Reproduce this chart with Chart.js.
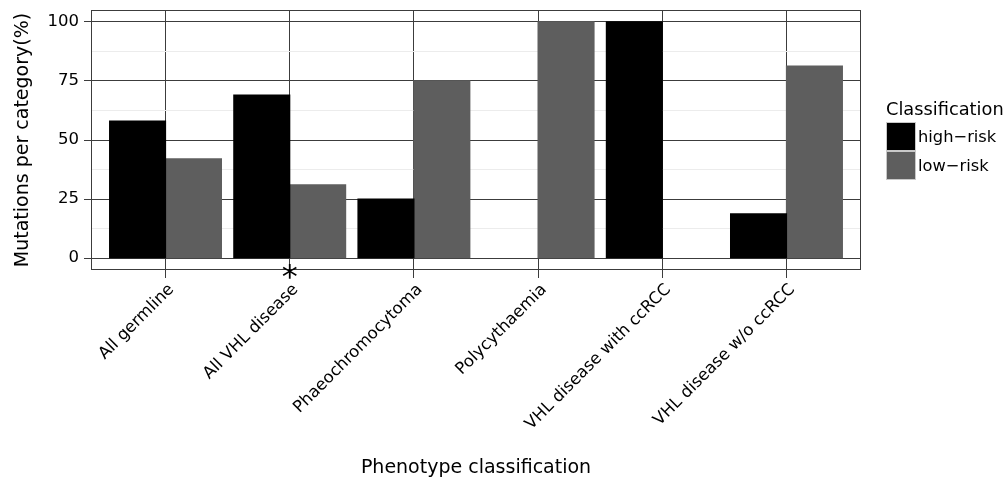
<!DOCTYPE html>
<html>
<head>
<meta charset="utf-8">
<script src="https://cdn.jsdelivr.net/npm/chart.js@4"></script>
<style>
  html, body { margin: 0; padding: 0; background: #fff; }
  #wrap { position: relative; width: 1006px; height: 480px; }
  #legend { position: absolute; left: 886px; top: 98px; font-family: 'DejaVu Sans', sans-serif; color: #000; }
  #legend .title { font-size: 17.8px; margin-bottom: 3px; }
  #legend .row { display: flex; align-items: center; height: 29px; }
  #legend .key { width: 30px; height: 29px; box-sizing: border-box; border: 1px solid #c8c8c8; margin-right: 2px; }
  #legend .lab { font-size: 16.3px; }
</style>
</head>
<body>
<div id="wrap">
  <canvas id="chart" width="1006" height="480"></canvas>
  <div id="legend"></div>
</div>
<script>
const categories = ['All germline', 'All VHL disease', 'Phaeochromocytoma', 'Polycythaemia', 'VHL disease with ccRCC', 'VHL disease w/o ccRCC']
const seriesNames = ['high\u2212risk', 'low\u2212risk']
const highRisk = [58, 69, 25, 0, 100, 18.75]
const lowRisk = [42, 31, 75, 100, 0, 81.25]
const seriesColors = ['#000000', '#5e5e5e']
const yTicks = [0, 25, 50, 75, 100]
const yMinorTicks = [12.5, 37.5, 62.5, 87.5]
const starredCategory = 'All VHL disease'

const FONT = "'DejaVu Sans', sans-serif"
const MAJOR = '#3c3c3c'
const MINOR = '#ececec'

// legend as plain html
const legendEl = document.getElementById('legend')
legendEl.innerHTML = '<div class="title">Classification</div>' +
  seriesNames.map((n, i) =>
    `<div class="row"><div class="key" style="background:${seriesColors[i]}"></div><span class="lab">${n}</span></div>`
  ).join('')

const toPoints = arr => arr.map((v, i) => ({ x: i, y: v }))

// panel border + asterisk under the starred category
const panelPlugin = {
  id: 'panel',
  afterDraw(chart) {
    const { ctx, chartArea: { left, right, top, bottom }, scales: { x } } = chart
    ctx.save()
    ctx.strokeStyle = MAJOR
    ctx.lineWidth = 1
    ctx.strokeRect(left + 0.5, top + 0.5, right - left - 1, bottom - top - 1)
    const idx = categories.indexOf(starredCategory)
    if (idx >= 0) {
      ctx.fillStyle = '#000'
      ctx.font = '32px ' + FONT
      ctx.textAlign = 'center'
      ctx.textBaseline = 'alphabetic'
      ctx.fillText('*', x.getPixelForValue(idx), bottom + 17)
    }
    ctx.restore()
  },
}

new Chart(document.getElementById('chart'), {
  type: 'bar',
  data: {
    datasets: seriesNames.map((name, i) => ({
      label: name,
      data: toPoints(i === 0 ? highRisk : lowRisk),
      backgroundColor: seriesColors[i],
      borderWidth: 0,
      inflateAmount: ctx => (ctx.raw && ctx.raw.y === 0 ? 0 : 0.6),
      categoryPercentage: 0.9,
      barPercentage: 1.0,
    })),
  },
  options: {
    responsive: false,
    animation: false,
    layout: { padding: { top: 10, right: 145, left: 0, bottom: 0 } },
    plugins: { legend: { display: false }, tooltip: { enabled: false } },
    scales: {
      x: {
        type: 'linear',
        min: -0.6,
        max: 5.6,
        offset: false,
        afterBuildTicks: s => { s.ticks = categories.map((c, i) => ({ value: i })) },
        afterFit: s => { s.height = 210; s.paddingLeft = 0; s.paddingRight = 0 },
        ticks: {
          autoSkip: false,
          minRotation: 45,
          maxRotation: 45,
          padding: 2,
          labelOffset: 6,
          color: '#000',
          font: { family: FONT, size: 16.5 },
          callback: v => categories[v],
        },
        grid: { color: MAJOR, tickColor: MAJOR, tickLength: 8, offset: false },
        border: { display: false },
        title: {
          display: true,
          text: 'Phenotype classification',
          color: '#000',
          font: { family: FONT, size: 19 },
          padding: { top: 0, bottom: 1 },
        },
      },
      y: {
        min: -5,
        max: 105,
        afterBuildTicks: s => { s.ticks = [...yTicks, ...yMinorTicks].sort((a, b) => a - b).map(v => ({ value: v })) },
        afterFit: s => { s.width = 91; s.paddingTop = 0; s.paddingBottom = 0 },
        ticks: {
          padding: 5,
          color: '#000',
          font: { family: FONT, size: 16.5 },
          callback: v => yTicks.includes(v) ? String(v) : '',
        },
        grid: {
          color: ctx => yTicks.includes(ctx.tick.value) ? MAJOR : MINOR,
          tickColor: ctx => yTicks.includes(ctx.tick.value) ? MAJOR : 'rgba(0,0,0,0)',
          tickLength: 7,
        },
        border: { display: false },
        title: {
          display: true,
          text: 'Mutations per category(%)',
          color: '#000',
          font: { family: FONT, size: 19 },
          padding: { top: 12, bottom: 0 },
        },
      },
    },
  },
  plugins: [panelPlugin],
})
</script>
</body>
</html>
